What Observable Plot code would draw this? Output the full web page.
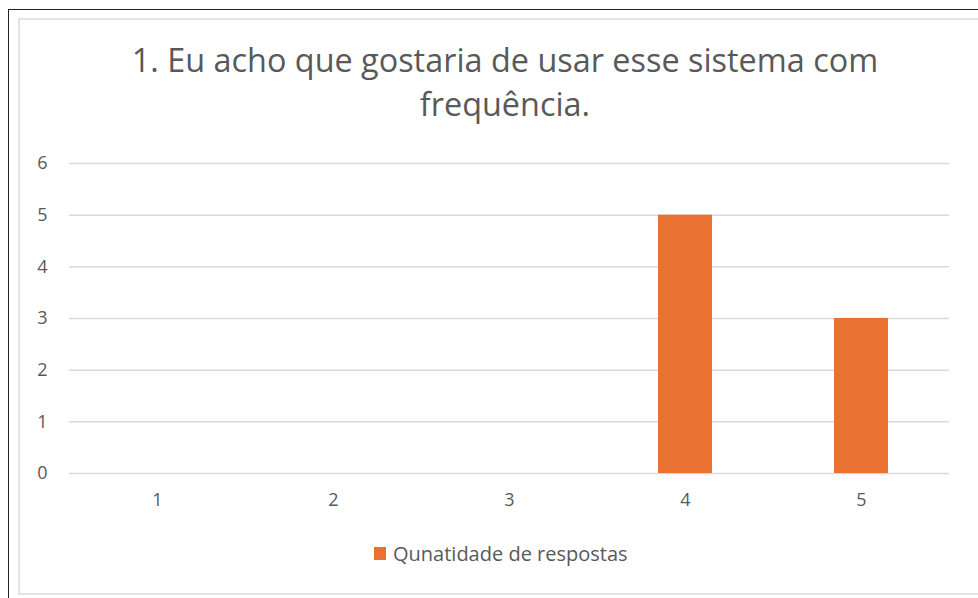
<!DOCTYPE html>
<html>
<head>
<meta charset="utf-8">
<script src="https://cdn.jsdelivr.net/npm/d3@7"></script>
<script src="https://cdn.jsdelivr.net/npm/@observablehq/plot@0.6"></script>
<style>
  html, body { margin: 0; padding: 0; background: #fff; overflow: hidden; }
  body { width: 978px; height: 598px; position: relative; font-family: "Open Sans", "Noto Sans", sans-serif; }
  #outer { position: absolute; left: 8px; top: 9px; width: 1100px; height: 700px; border: 1.5px solid #222; box-sizing: border-box; }
  #inner { position: absolute; left: 18px; top: 18px; width: 1100px; height: 577px; border: 2px solid #e3e3e3; box-sizing: border-box; }
  #title { position: absolute; left: 0; width: 1010px; top: 37px; text-align: center; font-size: 32.4px; line-height: 44px; color: #595959; }
  #chart { position: absolute; left: 0; top: 140px; }
  #legend { position: absolute; top: 540px; left: 374px; font-size: 20px; color: #595959; display: flex; align-items: center; white-space: nowrap; }
  #legend .sw { width: 12px; height: 13px; background: #E97132; margin-right: 7px; display: inline-block; }
</style>
</head>
<body>
<div id="outer"></div>
<div id="inner"></div>
<div id="title">1. Eu acho que gostaria de usar esse sistema com<br>frequência.</div>
<div id="chart"></div>
<div id="legend"><span class="sw"></span><span id="legendText"></span></div>
<script>
const categories = ["1", "2", "3", "4", "5"];
const values = [0, 0, 0, 5, 3];
const yTicks = [0, 1, 2, 3, 4, 5, 6];
const seriesName = "Qunatidade de respostas";

const data = categories.map((c, i) => ({ cat: c, value: values[i] }));
document.getElementById("legendText").textContent = seriesName;

const chart = Plot.plot({
  width: 978,
  height: 380,
  marginLeft: 69,
  marginRight: 29,
  marginTop: 23,
  marginBottom: 47,
  style: { fontFamily: "'Open Sans', 'Noto Sans', sans-serif", fontSize: "18px", color: "#595959", background: "transparent" },
  x: { type: "band", domain: categories, paddingInner: 0.693, paddingOuter: 0.3465, label: null },
  y: { domain: [0, 6], ticks: yTicks, label: null, tickFormat: d3.format("d") },
  marks: [
    Plot.gridY(yTicks, { stroke: "#d9d9d9", strokeOpacity: 1, strokeWidth: 1.5 }),
    Plot.axisY(yTicks, { tickSize: 0, tickPadding: 22, fill: "#595959", fontSize: 18, label: null, tickFormat: d3.format("d") }),
    Plot.axisX({ tickSize: 0, tickPadding: 20, fill: "#595959", fontSize: 18, label: null }),
    Plot.barY(data, { x: "cat", y: "value", fill: "#E97132" })
  ]
});
document.getElementById("chart").appendChild(chart);
</script>
</body>
</html>
